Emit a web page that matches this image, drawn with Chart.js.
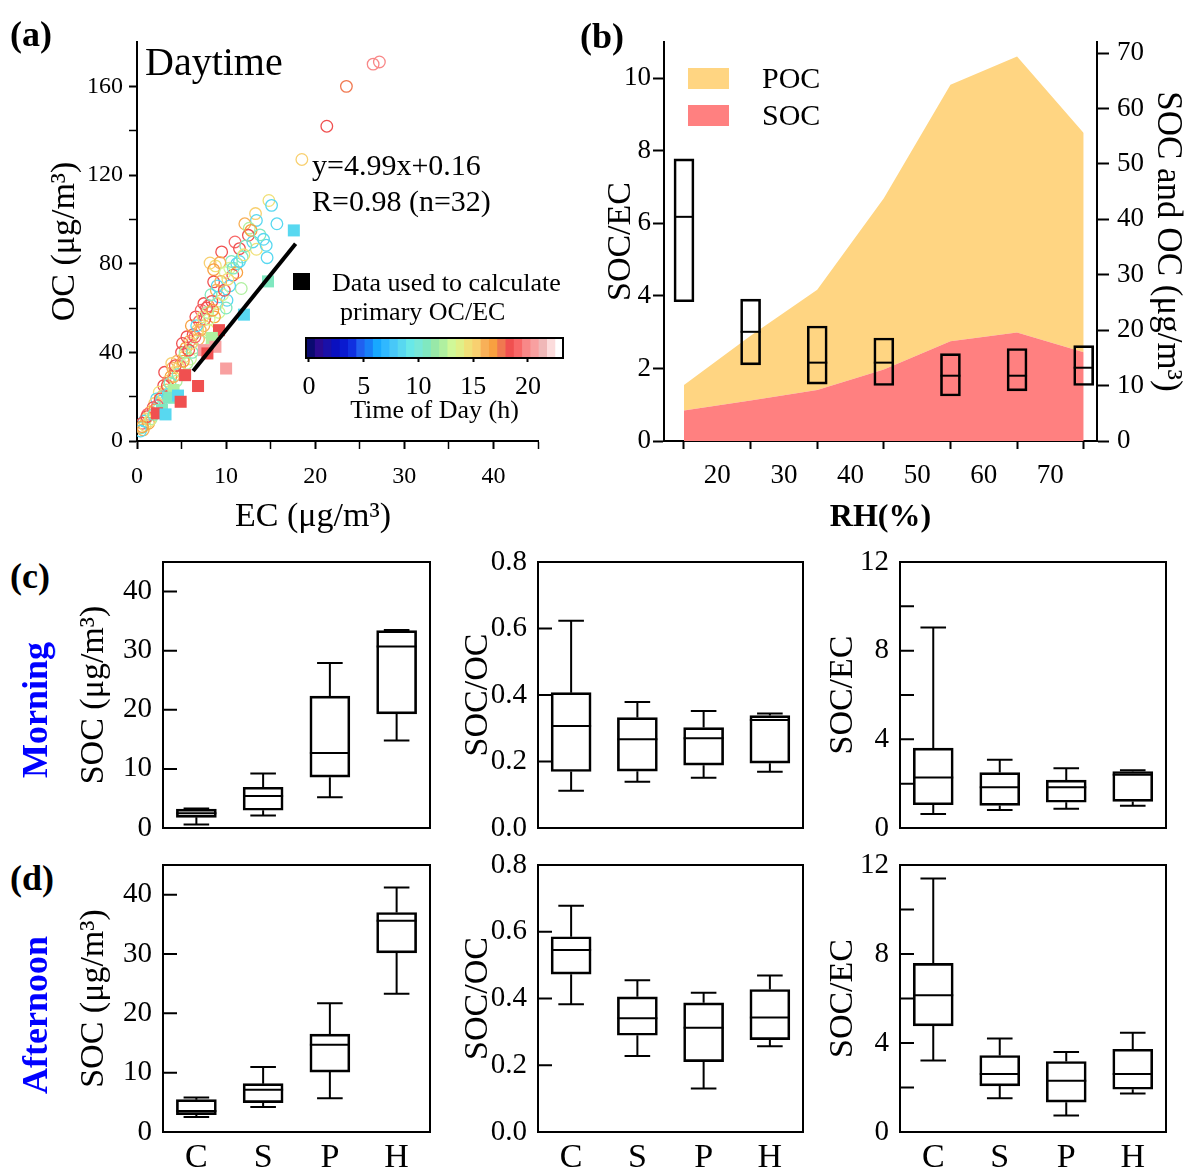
<!DOCTYPE html>
<html lang="en">
<head>
<meta charset="UTF-8">
<title>OC/EC and SOC figure</title>
<script src="https://cdn.jsdelivr.net/npm/chart.js@4.4.1/dist/chart.umd.min.js"></script>
<style>
  body { margin: 0; width: 1202px; height: 1176px; position: relative; background: #fff; overflow: hidden;
         font-family: "Liberation Serif", "Times New Roman", serif; }
  canvas { position: absolute; }
  .t { position: absolute; white-space: nowrap; line-height: 1; color: #000; }
</style>
</head>
<body>
<script>
// ---- (a) scatter: [EC, OC, hour of day]
const circlePts = [
  [14.8,108.5,14.5],[15.1,106.3,8.5],[15.7,98,8.5],[13.3,102.6,15.2],[13.4,99.5,8.5],[12.1,98,16],
  [12.6,96,12.2],[12.5,92.8,18.3],[11.0,89.8,19],[11.5,86.8,18.3],[9.5,85.3,18.3],[13.0,89.8,8.5],
  [13.4,86.5,14.5],[14.5,88.3,8.5],[14.6,82.7,8.5],[12.2,88,10.7],[11.8,83,10.7],[11.2,80,8.5],
  [10.6,81,10.7],[10.4,78,13],[8.2,80.3,15.2],[8.8,79,14.5],[9.3,80.5,16],[8.6,77.3,16.8],
  [10.75,74.8,18.3],[11.2,76,16.8],[9.9,76,13],[8.6,71.8,18.3],[11.7,68.8,12.2],[10.4,70,8.5],
  [8.9,68,16],[9.2,65,8.5],[9.6,66,13],[7.5,62,18.3],[8.0,61,19],[8.4,63,18.3],[10.1,63.5,8.5],
  [9.0,62,15.2],[9.2,58,13],[10.0,60,10.7],[8.7,56,16.8],[7.6,55,18.3],[7.0,54,19],[6.8,50,15.2],
  [7.5,52,16],[8.0,50,14.5],[6.3,48,18.3],[6.9,46,16],[7.2,45,12.2],[5.9,45,16],[5.5,42,16.8],
  [6.4,42,12.2],[5.0,40,18.3],[5.3,38,15.2],[6.0,37,13],[4.5,36,16],[4.8,34,19],[4.0,33,16],
  [4.2,31,14.5],[3.8,29,16.8],[3.5,27,15.2],[4.4,27,12.2],[3.0,25,18.3],[3.3,23,16],[2.5,22,14.5],
  [2.8,20,10.7],[2.2,19,8.5],[2.0,17,15.2],[1.8,15,18.3],[2.5,15,10.7],[1.5,13,16],[1.2,12,19],
  [1.0,10,15.2],[0.8,9,8.5],[0.6,8,18.3],[0.9,7,14.5],[0.5,6,10.7],[0.7,5,16],[1.3,8,16.8],
  [1.6,10,12.2],[3.1,31,18.3],[3.9,35,15.2],[5.1,44,18.3],[5.6,47,18.3],[6.1,52,16.8],[6.6,56,18.3],
  [7.2,59,19],[7.9,58,12.2],[8.3,66,10.7],[5.6,35,12.2],[6.2,40,10.7],[4.6,30,10.7],
  [1.1,11,18.3],[1.4,9,14.5],[2.0,14,16.8],[2.3,16,19],[2.7,18,8.5],[3.0,21,15.2],[3.4,25,18.3],
  [3.7,26,10.7],[4.1,29,16],[4.3,34,18.3],[4.7,33,14.5],[5.2,36,16.8],[5.4,40,12.2],[5.8,41,18.3],
  [6.1,44,15.2],[6.5,47,19],[6.7,52,8.5],[7.1,50,16],[7.4,56,14.5],[7.8,60,18.3],[8.1,55,13],
  [8.5,59,16.8],[9.0,70,8.5],[9.4,72,16],[9.8,68,18.3],[10.2,73,14.5],[10.8,78,10.7],[11.5,81,8.5],
  [12.0,84,14.5],[12.8,95,16.8],[13.8,93,10.7],[14.2,91,8.5],[0.4,4.5,8.5],[0.6,6.5,16.8],
  [1.9,12,10.7],[2.6,19,18.3],[3.5,21,8.5],
  [18.5,127,15.5],[21.3,142,18.3],[23.5,160,17.5],[26.5,170,19.8],[27.2,171,19.8]
];
const squarePts = [
  [17.6,95,8.5],[14.7,72,10.7],[12.0,57,8.5],[9.2,50,18.3],[8.4,46.5,12.2],[8.8,42.5,20.5],
  [7.5,41,20.5],[7.9,39.5,18.3],[10.0,32.7,20.5],[5.4,29.7,18.3],[6.85,24.8,18.3],[4.1,23,12.2],
  [3.6,19.5,10.7],[4.6,20.5,8.5],[4.9,17.7,18.3],[2.8,14,10.7],[2.25,12.5,18.3],[3.2,12,8.5]
];
const fitSlope = 4.99, fitIntercept = 0.16, fitRange = [6.3, 17.8];

// colour bar (time of day)
const cbColors = ['#0a0a70','#2a0a90','#1a10a8','#0a10c0','#0a1ad0','#1030e0','#2060f0','#1880f8',
  '#18a8ff','#30b8ff','#48c8f8','#58d8f0','#68e8e8','#78e8d8','#80e8c0','#98e8a8','#b0f0a0','#d0f898',
  '#e0f088','#f0e078','#f8d070','#f8b058','#f8a040','#f07850','#f05050','#f86868','#f88888','#f8a0a0',
  '#f0b8b8','#fcdcdc','#ffffff'];
const cbMin = -0.27, cbMax = 23.2;
const cbTicks = [0, 5, 10, 15, 20];

// ---- (b) RH bins
const rhBins = [15, 25, 35, 45, 55, 65, 75];
const socVals = [5.5, 7.3, 9.2, 12.9, 18.0, 19.6, 16.0];
const pocVals = [4.6, 11.7, 18.1, 30.9, 46.3, 49.8, 39.6];
const socEcBoxes = [[3.84,6.18,7.78],[2.10,3.01,3.91],[1.57,2.16,3.17],[1.53,2.16,2.84],
                    [1.24,1.80,2.41],[1.38,1.80,2.55],[1.53,2.02,2.63]];   // q1, median, q3

// ---- (c)/(d) groups: [min, q1, median, q3, max]
const groups = ['C', 'S', 'P', 'H'];
const socMorning = [[0.6,1.8,2.5,3.2,3.3],[2.1,3.0,5.4,6.9,9.2],[5.2,8.6,12.7,22.3,27.9],[14.8,19.3,30.7,33.4,33.5]];
const socOcMorning = [[0.112,0.17,0.307,0.407,0.623],[0.139,0.171,0.267,0.332,0.379],[0.151,0.189,0.27,0.302,0.352],[0.169,0.195,0.325,0.338,0.344]];
const socEcMorning = [[0.63,1.05,2.28,3.6,9.05],[0.81,1.02,1.84,2.5,3.08],[0.87,1.16,1.84,2.16,2.7],[1.0,1.2,2.4,2.55,2.61]];
const socAfternoon = [[2.53,2.92,3.54,5.45,5.8],[4.21,4.94,7.13,8.15,10.96],[5.67,10.1,14.7,16.5,21.7],[23.3,30.2,35.6,37.0,41.2]];
const socOcAfternoon = [[0.383,0.473,0.545,0.585,0.678],[0.228,0.29,0.341,0.405,0.455],[0.13,0.211,0.312,0.387,0.417],[0.257,0.277,0.343,0.427,0.469]];
const socEcAfternoon = [[3.21,4.77,6.15,7.58,11.39],[1.52,2.07,2.61,3.44,4.2],[0.74,1.34,2.3,3.17,3.59],[1.73,1.92,2.61,3.72,4.46]];

Chart.defaults.font.family = '"Liberation Serif", "Times New Roman", serif';
Chart.defaults.color = '#000';
Chart.defaults.animation = false;
Chart.defaults.responsive = false;
Chart.defaults.plugins.legend.display = false;
Chart.defaults.plugins.tooltip.enabled = false;

// medians, whiskers, frames and inward ticks
const decor = {
  id: 'decor',
  defaults: { frame: false, inTicks: 0 },
  afterDatasetsDraw(chart, args, o) {
    const ctx = chart.ctx, a = chart.chartArea;
    ctx.save();
    ctx.strokeStyle = '#000';
    ctx.lineWidth = 2;
    chart.data.datasets.forEach((ds, di) => {
      if (!ds.meds) return;
      const meta = chart.getDatasetMeta(di);
      const ys = chart.scales[meta.yAxisID];
      const py = v => ys.getPixelForValue(v);
      meta.data.forEach((bar, i) => {
        const { x, width } = bar.getProps(['x', 'width'], true);
        const hw = width / 2, cw = width * 0.32;
        const lo = ds.boxLo[i], hi = ds.boxHi[i];
        ctx.beginPath();
        ctx.moveTo(x - hw, py(ds.meds[i])); ctx.lineTo(x + hw, py(ds.meds[i]));
        if (ds.mins) {
          ctx.moveTo(x, py(hi)); ctx.lineTo(x, py(ds.maxs[i]));
          ctx.moveTo(x - cw, py(ds.maxs[i])); ctx.lineTo(x + cw, py(ds.maxs[i]));
          ctx.moveTo(x, py(lo)); ctx.lineTo(x, py(ds.mins[i]));
          ctx.moveTo(x - cw, py(ds.mins[i])); ctx.lineTo(x + cw, py(ds.mins[i]));
        }
        ctx.stroke();
      });
    });
    if (o.inTicks) {
      const ys = chart.scales.y;
      ctx.beginPath();
      ys.ticks.forEach(t => {
        const p = ys.getPixelForValue(t.value);
        ctx.moveTo(a.left, p); ctx.lineTo(a.left + o.inTicks, p);
      });
      ctx.stroke();
    }
    if (o.frame) ctx.strokeRect(a.left, a.top, a.right - a.left, a.bottom - a.top);
    ctx.restore();
  }
};
Chart.register(decor);

function place(id, left, top, w, h) {
  const c = document.createElement('canvas');
  c.id = id; c.width = w; c.height = h;
  c.style.left = left + 'px'; c.style.top = top + 'px';
  document.body.appendChild(c);
  return c;
}
function txt(s, x, y, size, o = {}) {
  const d = document.createElement('div');
  d.className = 't';
  d.textContent = s;
  d.style.fontSize = size + 'px';
  d.style.left = x + 'px'; d.style.top = y + 'px';
  if (o.bold) d.style.fontWeight = 'bold';
  if (o.color) d.style.color = o.color;
  let tf = o.center ? 'translate(-50%,-50%)' : 'translateY(-50%)';
  if (o.rot) tf += ' rotate(-90deg)';
  d.style.transform = tf;
  document.body.appendChild(d);
  return d;
}
function swatch(x, y, w, h, col) {
  const d = document.createElement('div');
  Object.assign(d.style, { position: 'absolute', left: x + 'px', top: y + 'px', width: w + 'px', height: h + 'px', background: col });
  document.body.appendChild(d);
}
const fixW = w => s => { s.width = w; };
const fixH = h => s => { s.height = h; };
const setTicks = vals => s => { s.ticks = vals.map(v => ({ value: v })); };
const hourColor = h => {
  const n = cbColors.length;
  const i = Math.max(0, Math.min(n - 1, Math.floor((h - cbMin) / ((cbMax - cbMin) / n))));
  return cbColors[i];
};
const outerGrid = (len, minorTest) => ({
  drawOnChartArea: false, tickLength: len, tickColor: '#000',
  tickWidth: c => (minorTest && minorTest(c.tick.value)) ? 1.5 : 2
});
const axisBorder = { color: '#000', width: 2 };

// ================= (a)
new Chart(place('panelA', 0, 0, 600, 540), {
  type: 'scatter',
  data: {
    datasets: [
      { label: 'fit', type: 'line', data: fitRange.map(x => ({ x, y: fitSlope * x + fitIntercept })),
        borderColor: '#000', borderWidth: 4, pointRadius: 0, order: 1 },
      { label: 'Data used to calculate primary OC/EC', data: squarePts.map(p => ({ x: p[0], y: p[1] })),
        pointStyle: 'rect', pointRadius: 8.5, pointBorderWidth: 0,
        pointBackgroundColor: squarePts.map(p => hourColor(p[2])), order: 2 },
      { label: 'Daytime', data: circlePts.map(p => ({ x: p[0], y: p[1] })),
        pointStyle: 'circle', pointRadius: 5.8, pointBorderWidth: 1.3, pointBackgroundColor: 'rgba(0,0,0,0)',
        pointBorderColor: circlePts.map(p => hourColor(p[2])), order: 3 }
    ]
  },
  options: {
    layout: { padding: { left: 0, right: 62, top: 42, bottom: 0 } },
    scales: {
      x: { type: 'linear', min: 0, max: 45, afterFit: fixH(99),
           afterBuildTicks: setTicks([0,5,10,15,20,25,30,35,40,45]),
           border: axisBorder, grid: outerGrid(8, v => v % 10 !== 0),
           ticks: { font: { size: 24 }, padding: 13, autoSkip: false, maxRotation: 0,
                    callback: v => v % 10 === 0 ? v : '' } },
      y: { type: 'linear', min: 0, max: 180, afterFit: fixW(137),
           afterBuildTicks: setTicks([0,20,40,60,80,100,120,140,160]),
           border: axisBorder, grid: outerGrid(8, v => v % 40 !== 0),
           ticks: { font: { size: 24 }, padding: 6, autoSkip: false,
                    callback: v => v % 40 === 0 ? v : '' },
           title: { display: true, text: 'OC (μg/m³)', font: { size: 34 }, padding: { top: 45, bottom: 0 } } }
    }
  }
});

// colour bar
new Chart(place('colorbar', 290, 330, 290, 100), {
  type: 'bar',
  data: {
    labels: [''],
    datasets: cbColors.map((c, i) => {
      const w = (cbMax - cbMin) / cbColors.length;
      return { label: 'band' + i, data: [[cbMin + i * w, cbMin + (i + 1) * w + 0.02]],
               backgroundColor: c, borderWidth: 0, grouped: false, barPercentage: 1, categoryPercentage: 1 };
    })
  },
  options: {
    indexAxis: 'y',
    layout: { padding: { left: 16, right: 17, top: 8, bottom: 0 } },
    plugins: { decor: { frame: true } },
    scales: {
      y: { display: false },
      x: { type: 'linear', min: cbMin, max: cbMax, afterFit: fixH(72), afterBuildTicks: setTicks(cbTicks),
           border: { display: false }, grid: outerGrid(4),
           ticks: { font: { size: 26 }, padding: 10, autoSkip: false, maxRotation: 0 },
           title: { display: true, text: 'Time of Day (h)', font: { size: 26 }, padding: { top: 0, bottom: 3 } } }
    }
  }
});

// ================= (b)
new Chart(place('panelB', 580, 0, 622, 540), {
  type: 'line',
  data: {
    datasets: [
      { label: 'SOC', data: rhBins.map((x, i) => ({ x, y: socVals[i] })), yAxisID: 'y2',
        fill: 'origin', backgroundColor: '#ff8080', borderWidth: 0, pointRadius: 0, tension: 0, order: 2 },
      { label: 'POC', data: rhBins.map((x, i) => ({ x, y: pocVals[i] })), yAxisID: 'y2',
        fill: '-1', backgroundColor: '#ffd582', borderWidth: 0, pointRadius: 0, tension: 0, order: 3 },
      { label: 'SOC/EC', type: 'bar', yAxisID: 'y',
        data: rhBins.map((x, i) => ({ x, y: [socEcBoxes[i][0], socEcBoxes[i][2]] })),
        boxLo: socEcBoxes.map(b => b[0]), boxHi: socEcBoxes.map(b => b[2]), meds: socEcBoxes.map(b => b[1]),
        backgroundColor: 'rgba(0,0,0,0)', borderColor: '#000', borderWidth: 2, borderSkipped: false,
        barThickness: 20, order: 1 }
    ]
  },
  options: {
    layout: { padding: { left: 0, right: 0, top: 42, bottom: 0 } },
    scales: {
      x: { type: 'linear', min: 12, max: 77, offset: false, afterFit: fixH(99),
           afterBuildTicks: setTicks([20,30,40,50,60,70]),
           border: axisBorder, grid: outerGrid(8),
           ticks: { font: { size: 27 }, padding: 11, autoSkip: false, maxRotation: 0 },
           title: { display: true, text: 'RH(%)', font: { size: 32, weight: 'bold' }, padding: { top: 0, bottom: 3 } } },
      y: { position: 'left', min: 0, max: 11, afterFit: fixW(84),
           afterBuildTicks: setTicks([0,2,4,6,8,10]),
           border: axisBorder, grid: outerGrid(11),
           ticks: { font: { size: 27 }, padding: 2, autoSkip: false },
           title: { display: true, text: 'SOC/EC', font: { size: 34 }, padding: { top: 21, bottom: 0 } } },
      y2: { position: 'right', min: 0, max: 72, stacked: true, afterFit: fixW(105),
            afterBuildTicks: setTicks([0,10,20,30,40,50,60,70]),
            border: axisBorder, grid: outerGrid(12),
            ticks: { font: { size: 27 }, padding: 8, autoSkip: false },
            title: { display: true, text: 'SOC and OC (μg/m³)', font: { size: 35 }, padding: { top: 14, bottom: 0 } } }
    }
  }
});

// ================= (c) / (d) box panels
function boxPanel(id, left, top, w, h, area, stats, y) {
  const showX = y.showX;
  new Chart(place(id, left, top, w, h), {
    type: 'bar',
    data: {
      labels: groups,
      datasets: [{
        label: y.title, data: stats.map(s => [s[1], s[3]]),
        boxLo: stats.map(s => s[1]), boxHi: stats.map(s => s[3]),
        mins: stats.map(s => s[0]), meds: stats.map(s => s[2]), maxs: stats.map(s => s[4]),
        backgroundColor: 'rgba(0,0,0,0)', borderColor: '#000', borderWidth: 2, borderSkipped: false,
        barThickness: 40
      }]
    },
    options: {
      layout: { padding: { left: 0, right: left + w - area.r, top: area.t - top, bottom: 0 } },
      plugins: { decor: { frame: true, inTicks: 14 } },
      scales: {
        x: { type: 'category', offset: true, afterFit: fixH(top + h - area.b),
             grid: { display: false, drawTicks: false }, border: { display: false },
             ticks: { display: showX, font: { size: 34 }, padding: 6, maxRotation: 0 } },
        y: { min: y.min, max: y.max, afterFit: fixW(area.l - left), afterBuildTicks: setTicks(y.ticks),
             grid: { display: false, drawTicks: false }, border: { display: false },
             ticks: { font: { size: 29 }, padding: 11, autoSkip: false, callback: y.fmt },
             title: { display: true, text: y.title, font: { size: 34 }, padding: { top: y.titlePad, bottom: 0 } } }
      }
    }
  });
}
const rowC = { t: 562, b: 828 }, rowD = { t: 865, b: 1132 };
const col1 = { l: 163, r: 430 }, col2 = { l: 538, r: 803 }, col3 = { l: 900, r: 1166 };
const socAxis = { min: 0, max: 45, ticks: [0,10,20,30,40], fmt: v => v, title: 'SOC (μg/m³)', titlePad: 14 };
const socOcAxis = { min: 0, max: 0.8, ticks: [0,0.2,0.4,0.6,0.8], fmt: v => v.toFixed(1), title: 'SOC/OC', titlePad: 8 };
const socEcAxis = { min: 0, max: 12, ticks: [0,2,4,6,8,10,12], fmt: v => v % 4 === 0 ? v : '', title: 'SOC/EC', titlePad: 8 };

boxPanel('c1', 60, 530, 380, 330, { ...col1, ...rowC }, socMorning, { ...socAxis, showX: false });
boxPanel('c2', 450, 530, 365, 330, { ...col2, ...rowC }, socOcMorning, { ...socOcAxis, showX: false });
boxPanel('c3', 815, 530, 380, 330, { ...col3, ...rowC }, socEcMorning, { ...socEcAxis, showX: false });
boxPanel('d1', 60, 833, 380, 343, { ...col1, ...rowD }, socAfternoon, { ...socAxis, showX: true });
boxPanel('d2', 450, 833, 365, 343, { ...col2, ...rowD }, socOcAfternoon, { ...socOcAxis, showX: true });
boxPanel('d3', 815, 833, 380, 343, { ...col3, ...rowD }, socEcAfternoon, { ...socEcAxis, showX: true });

// ================= text and legends
txt('(a)', 10, 34, 36, { bold: true });
txt('Daytime', 145, 62, 40);
txt('y=4.99x+0.16', 312, 165, 30);
txt('R=0.98 (n=32)', 312, 201, 30);
swatch(293, 273, 17, 17, '#000');
txt('Data used to calculate', 332, 283, 26);
txt('primary OC/EC', 340, 312, 26);
txt('EC (μg/m³)', 313, 515, 34, { center: true });

txt('(b)', 580, 36, 36, { bold: true });
swatch(688, 68, 41, 21, '#ffd582');
swatch(688, 105, 41, 21, '#ff8080');
txt('POC', 762, 78, 30);
txt('SOC', 762, 115, 30);

txt('(c)', 10, 576, 36, { bold: true });
txt('(d)', 10, 878, 36, { bold: true });
txt('Morning', 35, 710, 36, { bold: true, color: '#0000ff', center: true, rot: true });
txt('Afternoon', 35, 1015, 36, { bold: true, color: '#0000ff', center: true, rot: true });
</script>
</body>
</html>
